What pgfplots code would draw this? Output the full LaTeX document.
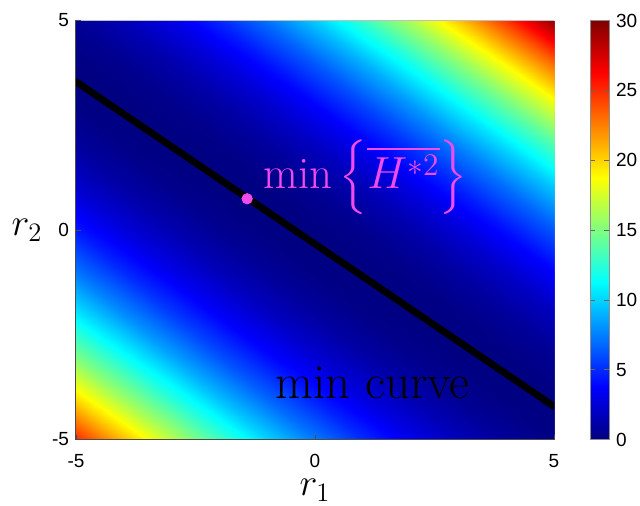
\RequirePackage{fix-cm}
\documentclass[border=0pt]{standalone}
\usepackage{amsmath}
\usepackage{fontspec}
\usepackage{pgfplots}
\pgfplotsset{compat=1.18}
\newfontfamily\hel{Liberation Sans}
\definecolor{minpink}{RGB}{242,75,235}
\definecolor{frame}{RGB}{75,75,75}

% H values on the (r1,r2) grid, read off the colour field
\pgfplotstableread{
x y z
-5 -5 25.15
-5 -4 19.64
-5 -3 14.81
-5 -2 10.66
-5 -1 7.19
-5 0 4.41
-5 1 2.30
-5 2 0.87
-5 3 0.12
-5 4 0.05
-5 5 0.67

-4 -5 20.74
-4 -4 15.77
-4 -3 11.48
-4 -2 7.87
-4 -1 4.94
-4 0 2.69
-4 1 1.11
-4 2 0.22
-4 3 0.01
-4 4 0.48
-4 5 1.63

-3 -5 16.76
-3 -4 12.32
-3 -3 8.57
-3 -2 5.49
-3 -1 3.10
-3 0 1.39
-3 1 0.35
-3 2 0.00
-3 3 0.33
-3 4 1.33
-3 5 3.02

-2 -5 13.20
-2 -4 9.30
-2 -3 6.08
-2 -2 3.55
-2 -1 1.69
-2 0 0.51
-2 1 0.02
-2 2 0.20
-2 3 1.06
-2 4 2.61
-2 5 4.83

-1 -5 10.06
-1 -4 6.70
-1 -3 4.02
-1 -2 2.02
-1 -1 0.70
-1 0 0.07
-1 1 0.11
-1 2 0.83
-1 3 2.23
-1 4 4.31
-1 5 7.07

0 -5 7.35
0 -4 4.53
0 -3 2.39
0 -2 0.93
0 -1 0.14
0 0 0.04
0 1 0.62
0 2 1.88
0 3 3.82
0 4 6.43
0 5 9.73

1 -5 5.07
1 -4 2.78
1 -3 1.18
1 -2 0.25
1 -1 0.01
1 0 0.44
1 1 1.56
1 2 3.35
1 3 5.83
1 4 8.98
1 5 12.82

2 -5 3.20
2 -4 1.46
2 -3 0.39
2 -2 0.00
2 -1 0.29
2 0 1.27
2 1 2.92
2 2 5.25
2 3 8.26
2 4 11.95
2 5 16.33

3 -5 1.77
3 -4 0.56
3 -3 0.03
3 -2 0.18
3 -1 1.01
3 0 2.52
3 1 4.71
3 2 7.58
3 3 11.12
3 4 15.35
3 5 20.26

4 -5 0.75
4 -4 0.08
4 -3 0.09
4 -2 0.78
4 -1 2.14
4 0 4.19
4 1 6.92
4 2 10.32
4 3 14.41
4 4 19.18
4 5 24.62

5 -5 0.17
5 -4 0.03
5 -3 0.57
5 -2 1.80
5 -1 3.70
5 0 6.29
5 1 9.55
5 2 13.49
5 3 18.12
5 4 23.42
5 5 29.41
}\Hgrid

\begin{document}
\begin{tikzpicture}
\begin{axis}[
  name=ax,
  scale only axis,
  width=239pt, height=209.5pt,
  xmin=-5, xmax=5, ymin=-5, ymax=5,
  xtick={-5,0,5}, ytick={-5,0,5},
  xticklabels={-5,0,5}, yticklabels={-5,0,5},
  ticklabel style={font=\hel\fontsize{9.5}{11}\selectfont},
  xticklabel style={yshift=-4pt},
  tick align=inside, major tick length=2.5pt,
  tick pos=left,
  tick style={frame, line width=0.4pt},
  axis lines*=left,
  axis line style={frame, line width=0.5pt},
  axis on top,
  xlabel={$r_1$}, ylabel={$r_2$},
  label style={font=\fontsize{19}{22}\selectfont, inner sep=0pt},
  xlabel style={at={(axis description cs:0.5,0)}, anchor=center, yshift=-25.5pt},
  ylabel style={at={(axis description cs:0,0.5)}, rotate=-90, anchor=center, xshift=-24.5pt},
  colormap/jet,
  point meta min=0, point meta max=30,
  colorbar,
  colorbar style={
    width=9.5pt,
    at={(parent axis.north east)}, anchor=north west, xshift=9.5pt,
    ytick={0,5,10,15,20,25,30},
    yticklabels={0,5,10,15,20,25,30},
    yticklabel style={font=\hel\fontsize{9.5}{11}\selectfont},
    tick align=inside, major tick length=2.5pt,
    axis line style={black!45, line width=0.4pt},
    tick style={black!60},
  },
]
\addplot[surf, shader=interp, mesh/ordering=y varies, point meta=explicit]
  table[x=x, y=y, meta=z] {\Hgrid};
\addplot[black, line width=3.5pt, line cap=round] coordinates {(-5,3.54) (5,-4.21)};
\addplot[only marks, mark=*, mark size=2.6pt, minpink] coordinates {(-1.42,0.745)};
\node[anchor=base west, minpink, inner sep=0pt, font=\fontsize{22.5}{26}\selectfont]
  at (axis cs:-1.09,1.0) {$\min\left\{\overline{H^{*2}}\right\}$};
\node[anchor=base west, inner sep=0pt, font=\fontsize{24.5}{28}\selectfont]
  at (axis cs:-0.84,-4.02) {min curve};
\draw[black!25, line width=0.5pt] (rel axis cs:0,1) -- (rel axis cs:1,1) -- (rel axis cs:1,0);
\end{axis}
\pgfresetboundingbox
\path (ax.south west) ++(-38pt,-33pt) rectangle ([shift={(43pt,10.25pt)}]ax.north east);
\end{tikzpicture}
\end{document}
